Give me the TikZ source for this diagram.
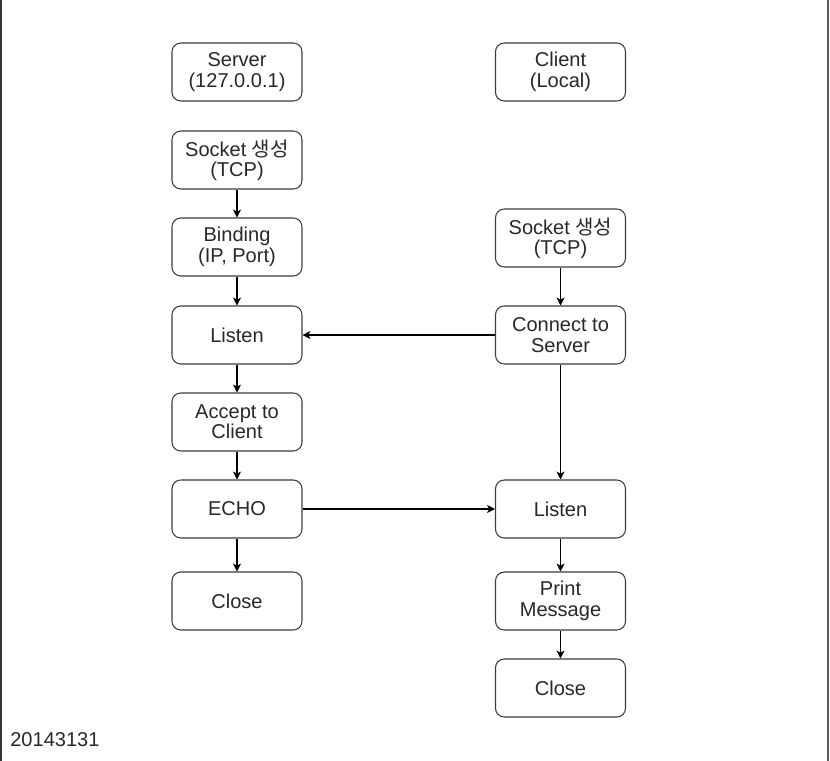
\documentclass[tikz,border=0pt]{standalone}
\usepackage{fontspec}
\setmainfont{Liberation Sans}
\newfontfamily\krfont{Noto Sans CJK KR}
\usepackage{tikz}
\usetikzlibrary{arrows.meta,positioning}
\definecolor{boxline}{RGB}{60,60,60}
\definecolor{textgray}{RGB}{40,40,40}
\tikzset{
    % Step boxes of both columns
    stepbox/.style={
        rectangle, draw=boxline, line width=0.6pt, fill=white,
        minimum width=2.6cm, minimum height=1.16cm,
        rounded corners=5pt, align=center, text=textgray,
        font=\fontsize{11.4}{11.6}\selectfont
    },
    % Connectors
    flow/.style={
        draw=black, line width=0.6pt,
        -{Stealth[length=4.5pt,width=4.6pt,inset=1.2pt]}
    }
}

\begin{document}
\begin{tikzpicture}

% Canvas and side rules
\useasboundingbox (0,0) rectangle (16.6,-15.22);
\draw[black!80, line width=0.8pt] (0.02,0) -- (0.02,-15.22);
\draw[black!65, line width=0.8pt] (16.56,0) -- (16.56,-15.22);

% Server side
\node[stepbox] (server) at (4.74,-1.44) {Server\\(127.0.0.1)};
\node[stepbox] (ssock) at (4.74,-3.20) {Socket {\krfont 생성}\\(TCP)};
\node[stepbox] (bind) at (4.74,-4.94) {Binding\\(IP, Port)};
\node[stepbox] (slisten) at (4.74,-6.70) {Listen};
\node[stepbox] (accept) at (4.74,-8.44) {Accept to\\Client};
\node[stepbox] (echo) at (4.74,-10.18) {ECHO};
\node[stepbox] (sclose) at (4.74,-12.02) {Close};

% Client side
\node[stepbox] (client) at (11.21,-1.44) {Client\\(Local)};
\node[stepbox] (csock) at (11.21,-4.76) {Socket {\krfont 생성}\\(TCP)};
\node[stepbox] (connect) at (11.21,-6.70) {Connect to\\Server};
\node[stepbox] (clisten) at (11.21,-10.18) {Listen};
\node[stepbox] (print) at (11.21,-12.02) {Print\\Message};
\node[stepbox] (cclose) at (11.21,-13.76) {Close};

% Student number
\node[anchor=west, inner sep=0pt, text=textgray, font=\fontsize{11.4}{11.6}\selectfont] (stid) at (0.2,-14.8) {20143131};

% Server flow
\draw[flow] (ssock) -- (bind);
\draw[flow] (bind) -- (slisten);
\draw[flow] (slisten) -- (accept);
\draw[flow] (accept) -- (echo);
\draw[flow] (echo) -- (sclose);

% Client flow
\draw[flow] (csock) -- (connect);
\draw[flow] (connect) -- (clisten);
\draw[flow] (clisten) -- (print);
\draw[flow] (print) -- (cclose);

% Between the two
\draw[flow] (connect) -- (slisten);
\draw[flow] (echo) -- (clisten);

\end{tikzpicture}
\end{document}
